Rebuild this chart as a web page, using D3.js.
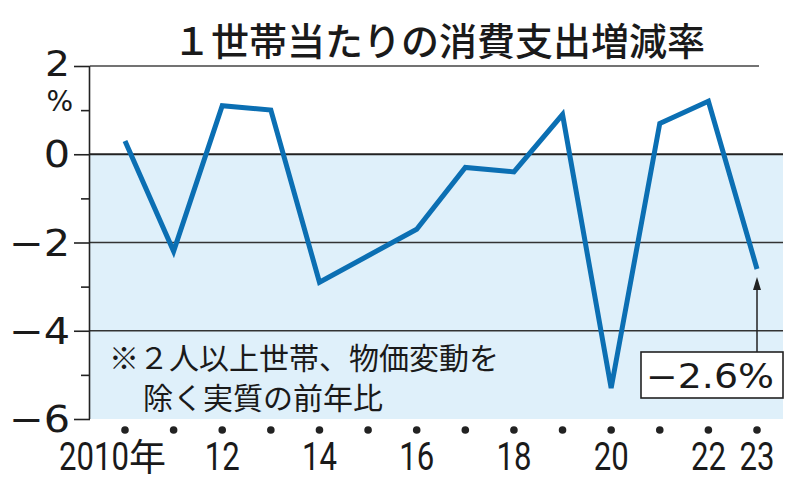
<!DOCTYPE html>
<html><head><meta charset="utf-8">
<script src="https://cdn.jsdelivr.net/npm/d3@7"></script>
<style>html,body{margin:0;padding:0;background:#fff;}svg{display:block;}</style>
</head><body>
<svg id="chart" width="800" height="491"></svg>
<script>
const years = [2010,2011,2012,2013,2014,2015,2016,2017,2018,2019,2020,2021,2022,2023];
const values = [0.3,-2.2,1.1,1.0,-2.9,-2.3,-1.7,-0.3,-0.4,0.9,-5.3,0.7,1.2,-2.6];
const xTickYears = [2010,2012,2014,2016,2018,2020,2022,2023];
const xTickLabels = ["2010","12","14","16","18","20","22","23"];
const yearSuffix = "年";
const yMajor = [2,0,-2,-4,-6];
const yMinor = [1,-1,-3,-5];
const yLabels = ["2","0","−2","−4","−6"];
const unitLabel = "%";
const title = "１世帯当たりの消費支出増減率";
const noteLines = ["※２人以上世帯、物価変動を","除く実質の前年比"];
const callout = "−2.6%";

const svg = d3.select("#chart");
const x = d3.scaleLinear().domain([2010,2023]).range([125,757]);
const y = d3.scaleLinear().domain([-6,2]).range([419,66]);
const left = 90, right = 783;

// shaded negative area
svg.append("rect").attr("x",left).attr("y",y(0)).attr("width",right-left).attr("height",y(-6)-y(0)).attr("fill","#dff0fa");

// gridlines
svg.append("line").attr("x1",left).attr("x2",759).attr("y1",y(2)).attr("y2",y(2)).attr("stroke","#444").attr("stroke-width",1.3);
[-2,-4].forEach(v=>{
  svg.append("line").attr("x1",left).attr("x2",right).attr("y1",y(v)).attr("y2",y(v)).attr("stroke","#333").attr("stroke-width",1.3);
});
svg.append("line").attr("x1",left).attr("x2",right).attr("y1",y(0)).attr("y2",y(0)).attr("stroke","#222").attr("stroke-width",2.2);

// y axis
const yAxis = d3.axisLeft(y).tickValues(yMajor).tickSize(16).tickFormat("");
const ga = svg.append("g").attr("transform",`translate(${left},0)`).call(yAxis);
ga.select(".domain").attr("stroke","#222").attr("stroke-width",1.6).attr("d",`M-0.5,${y(2)}V${y(-6)}`);
ga.selectAll(".tick line").attr("stroke","#222").attr("stroke-width",1.6);
const yAxisMinor = d3.axisLeft(y).tickValues(yMinor).tickSize(9).tickFormat("");
const gm = svg.append("g").attr("transform",`translate(${left},0)`).call(yAxisMinor);
gm.select(".domain").remove();
gm.selectAll(".tick line").attr("stroke","#222").attr("stroke-width",1.6);

// y labels (wide)
yMajor.forEach((v,i)=>{
  const top = i===0;
  const g = svg.append("g").attr("transform",`translate(70,${y(v)+(top?10:13)}) scale(1.12,1)`);
  g.append("text").attr("text-anchor","end")
    .attr("font-family","DejaVu Sans").attr("font-size",top?35:37).attr("fill","#1a1a1a").text(yLabels[i]);
});
svg.append("text").attr("x",73).attr("y",111).attr("text-anchor","end")
  .attr("font-family","DejaVu Sans").attr("font-size",28).attr("fill","#1a1a1a").text(unitLabel);

// x dots
svg.selectAll("circle.dot").data(years).enter().append("circle").attr("class","dot")
  .attr("cx",d=>x(d)).attr("cy",430).attr("r",3.8).attr("fill","#222");

// x labels (condensed)
xTickYears.forEach((yr,i)=>{
  const g = svg.append("g").attr("transform",`translate(${i===0 ? x(yr)+4 : x(yr)},470) scale(0.82,1)`);
  g.append("text").attr("text-anchor",i===0?"end":"middle")
    .attr("font-family","Roboto").attr("font-size",38).attr("fill","#1a1a1a").text(xTickLabels[i]);
});
svg.append("text").attr("x",x(xTickYears[0])+4).attr("y",471)
  .attr("font-family","'Noto Sans CJK JP'").attr("font-size",37).attr("fill","#1a1a1a").text(yearSuffix);

// note
noteLines.forEach((t,i)=>{
  svg.append("text").attr("x",i===0?109:143).attr("y",i===0?369:409)
    .attr("font-family","'Noto Sans CJK JP'").attr("font-size",30).attr("fill","#1a1a1a").text(t);
});

// data line
const line = d3.line().x((d,i)=>x(years[i])).y(d=>y(d));
svg.append("path").datum(values).attr("d",line).attr("fill","none")
  .attr("stroke","#0b6fb3").attr("stroke-width",5).attr("stroke-linejoin","miter");

// callout arrow & box
const lastX = x(years[years.length-1]), lastY = y(values[values.length-1]);
svg.append("line").attr("x1",lastX).attr("x2",lastX).attr("y1",352).attr("y2",lastY+20).attr("stroke","#222").attr("stroke-width",1.5);
svg.append("path").attr("d",`M${lastX},${lastY+8}L${lastX-4},${lastY+21}L${lastX+4},${lastY+21}Z`).attr("fill","#222");
svg.append("rect").attr("x",641).attr("y",352).attr("width",142).attr("height",46).attr("fill","#fff").attr("stroke","#222").attr("stroke-width",1.6);
svg.append("text").attr("x",646).attr("y",388)
  .attr("textLength",128).attr("lengthAdjust","spacingAndGlyphs")
  .attr("font-family","DejaVu Sans").attr("font-size",33).attr("fill","#1a1a1a").text(callout);

// title
svg.append("text").attr("x",439).attr("y",55).attr("text-anchor","middle")
  .attr("font-family","'Noto Sans CJK JP'").attr("font-weight",500).attr("font-size",38).attr("fill","#1a1a1a").text(title);
</script>
</body></html>
